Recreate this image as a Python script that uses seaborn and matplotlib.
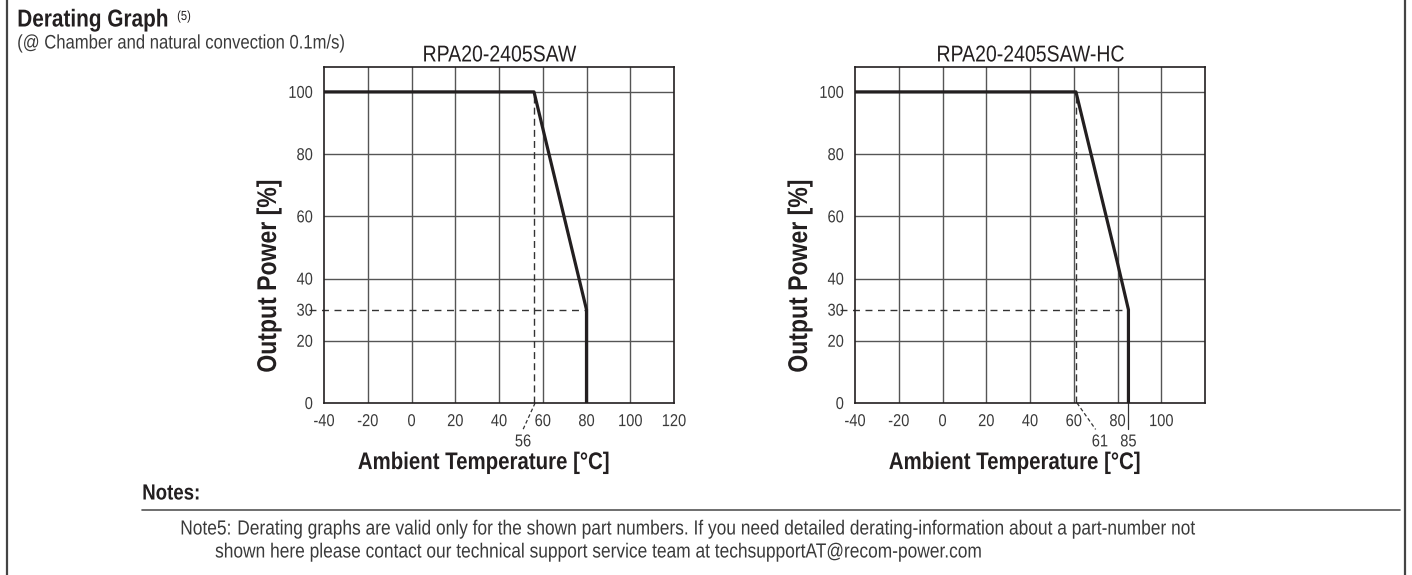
import matplotlib
matplotlib.use("Agg")
import matplotlib.pyplot as plt
import pandas as pd
import seaborn as sns
from matplotlib import patheffects as pe
from matplotlib.text import Text
from matplotlib.transforms import Affine2D

# derating curves
left_temp = [-40, 56, 80, 80]
left_power = [100, 100, 30, 0]
right_temp = [-40, 61, 80, 85, 85]
right_power = [100, 100, 45, 30, 0]

left_title = "RPA20-2405SAW"
right_title = "RPA20-2405SAW-HC"
x_grid = [-40, -20, 0, 20, 40, 60, 80, 100, 120]
left_xlabels = ["-40", "-20", "0", "20", "40", "60", "80", "100", "120"]
right_xlabels = ["-40", "-20", "0", "20", "40", "60", "80", "100", ""]
y_ticks = [0, 20, 30, 40, 60, 80, 100]
y_grid = [20, 40, 60, 80, 100]
left_knee, left_cut = 56, 80
right_knee, right_cut = 61, 85
min_power = 30

note_line1 = ("Derating graphs are valid only for the shown part numbers. If you need detailed "
              "derating-information about a part-number not")
note_line2 = ("shown here please contact our technical support service team at "
              "techsupportAT@recom-power.com")

sns.set_theme(style="white")
plt.rcParams["font.family"] = ["Liberation Sans", "DejaVu Sans"]

W, H = 1412, 575
INK = "#231f20"
GRID = "#555555"
TXT = "#3a3a3a"
SQUEEZE = 0.85  # datasheet uses a condensed face


class Narrow(pe.AbstractPathEffect):
    """Squeeze glyph paths horizontally to fake a condensed font."""

    def __init__(self, sx, anchor):
        super().__init__()
        self.sx = sx
        self.anchor = anchor

    def draw_path(self, renderer, gc, tpath, affine, rgbFace=None):
        ext = tpath.get_extents()
        cx = {"left": ext.x0, "center": (ext.x0 + ext.x1) / 2, "right": ext.x1}[self.anchor]
        squeeze = Affine2D().translate(-cx, 0).scale(self.sx, 1).translate(cx, 0)
        renderer.draw_path(gc, tpath, squeeze + affine, rgbFace)


fig = plt.figure(figsize=(W / 100, H / 100), dpi=100)


def px_axes(x0, x1, top, bottom):
    return fig.add_axes([x0 / W, 1 - bottom / H, (x1 - x0) / W, (bottom - top) / H])


def draw_panel(ax, temp, power, title, xlabels, knee, cut):
    df = pd.DataFrame({"temp": temp, "power": power})
    for x in x_grid[1:-1]:
        ax.axvline(x, color=GRID, lw=1.0, zorder=1)
    for y in y_grid:
        ax.axhline(y, color=GRID, lw=1.0, zorder=1)
    ax.vlines(knee, 0, 100, colors="#333333", lw=1.0, linestyles=(0, (5, 3)), zorder=2)
    ax.hlines(min_power, -47, cut, colors="#333333", lw=1.0, linestyles=(0, (5, 4)),
              zorder=2, clip_on=False)
    sns.lineplot(data=df, x="temp", y="power", sort=False, estimator=None,
                 color=INK, lw=2.3, ax=ax, zorder=3)
    ax.set_xlim(-40, 120)
    ax.set_ylim(0, 108)
    ax.set_xticks(x_grid, xlabels)
    ax.set_yticks(y_ticks, [str(v) for v in y_ticks])
    ax.tick_params(length=0, labelsize=12.4, labelcolor=TXT, pad=8)
    for s in ax.spines.values():
        s.set_color(INK)
        s.set_linewidth(1.2)
    ax.set_title(title, fontsize=16.5, color=INK, pad=4)
    ax.set_xlabel("Ambient Temperature [°C]", fontsize=17.3, fontweight="bold", color=INK)
    ax.set_ylabel("Output Power [%]", fontsize=19.5, fontweight="bold", color=INK)
    ax.xaxis.set_label_coords(0.456, -0.143)
    ax.yaxis.set_label_coords(-0.12, 0.378)


ax1 = px_axes(324, 674, 67, 403)
ax2 = px_axes(855, 1205, 67, 403)
draw_panel(ax1, left_temp, left_power, left_title, left_xlabels, left_knee, left_cut)
draw_panel(ax2, right_temp, right_power, right_title, right_xlabels, right_knee, right_cut)

# leaders for the values that are not on the tick grid
lk = dict(color="#333333", lw=0.9, clip_on=False)
ax1.plot([left_knee + 0.5, left_knee - 5], [0, -8.5], ls=(0, (3, 2)), **lk)
ax1.text(left_knee - 5, -12.5, str(left_knee), ha="center", va="center",
         fontsize=12.4, color=TXT, clip_on=False)
ax2.plot([right_knee + 0.5, right_knee + 9], [0, -8.5], ls=(0, (3, 2)), **lk)
ax2.text(right_knee + 11, -12.5, str(right_knee), ha="center", va="center",
         fontsize=12.4, color=TXT, clip_on=False)
ax2.plot([right_cut, right_cut], [0, -8.5], ls="-", **lk)
ax2.text(right_cut, -12.5, str(right_cut), ha="center", va="center",
         fontsize=12.4, color=TXT, clip_on=False)

# header, notes and page frame
fig.text(17 / W, 1 - 20 / H, "Derating Graph", fontsize=17.6, fontweight="bold",
         color=INK, va="center")
fig.text(177 / W, 1 - 17 / H, "(5)", fontsize=9.5, color=INK, va="center")
fig.text(17 / W, 1 - 43 / H, "(@ Chamber and natural convection 0.1m/s)", fontsize=14.1,
         color=TXT, va="center")
fig.text(142 / W, 1 - 494 / H, "Notes:", fontsize=15.8, fontweight="bold", color=INK,
         va="center")
fig.add_artist(plt.Line2D([142 / W, 1400 / W], [1 - 510 / H, 1 - 510 / H],
                          color="#555555", lw=1.2))
fig.text(180 / W, 1 - 529 / H, "Note5:", fontsize=14.7, color=TXT, va="center")
fig.text(237 / W, 1 - 529 / H, note_line1, fontsize=14.7, color=TXT, va="center")
fig.text(215 / W, 1 - 552 / H, note_line2, fontsize=14.7, color=TXT, va="center")
for xf in (7, 1405):
    fig.add_artist(plt.Line2D([xf / W, xf / W], [0, 1], color="#444444", lw=1.6))

# squeeze every text once the ticks exist
fig.canvas.draw()
for t in fig.findobj(Text):
    t.set_path_effects([Narrow(SQUEEZE, t.get_horizontalalignment())])

fig.savefig("out.png", dpi=100)
